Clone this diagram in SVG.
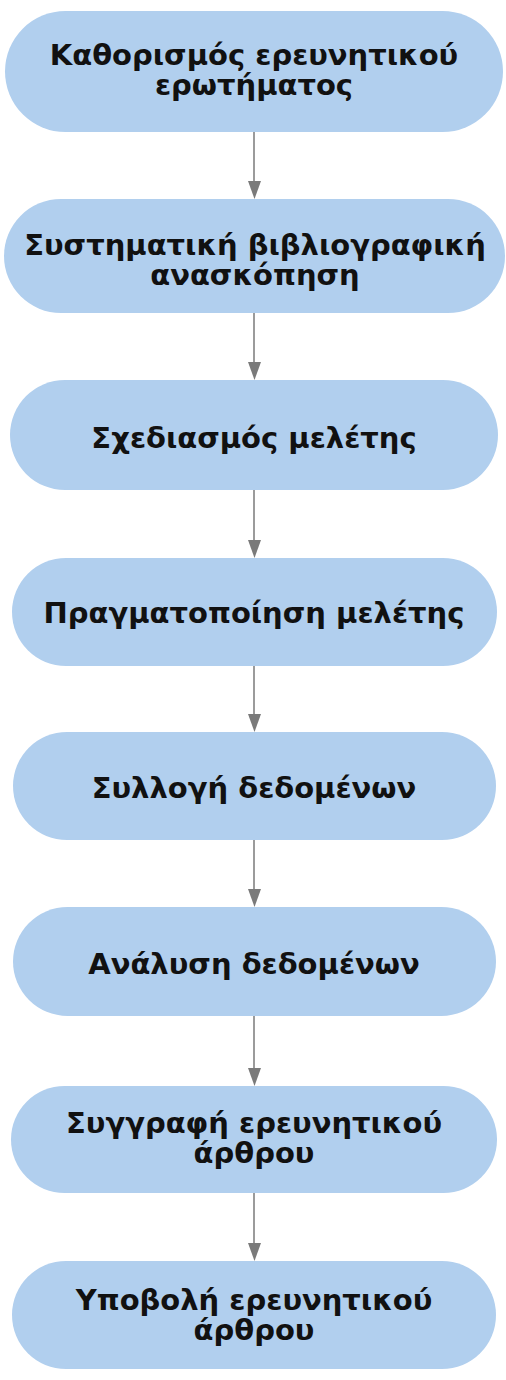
<svg xmlns="http://www.w3.org/2000/svg" width="506" height="1380" viewBox="0 0 506 1380">
<style>
.n{fill:#b1cfee}
.t{font-family:"DejaVu Sans",Verdana,sans-serif;font-weight:bold;font-size:29px;fill:#111;text-anchor:middle}
.c{stroke:#7a7a7a;stroke-width:1.5;fill:none}
.h{fill:#7a7a7a}
</style>
<rect width="506" height="1380" fill="#fff"/>
<g id="connectors">
<line class="c" x1="254" y1="132" x2="254" y2="184"/><polygon class="h" points="248,181 261,181 254.5,199"/>
<line class="c" x1="254" y1="313" x2="254" y2="365"/><polygon class="h" points="248,362 261,362 254.5,380"/>
<line class="c" x1="254" y1="490" x2="254" y2="543"/><polygon class="h" points="248,540 261,540 254.5,558"/>
<line class="c" x1="254" y1="666" x2="254" y2="717"/><polygon class="h" points="248,714 261,714 254.5,732"/>
<line class="c" x1="254" y1="840" x2="254" y2="892"/><polygon class="h" points="248,889 261,889 254.5,907"/>
<line class="c" x1="254" y1="1016" x2="254" y2="1071"/><polygon class="h" points="248,1068 261,1068 254.5,1086"/>
<line class="c" x1="254" y1="1193" x2="254" y2="1246"/><polygon class="h" points="248,1243 261,1243 254.5,1261"/>
</g>
<g id="n1"><rect class="n" x="5" y="11" width="498" height="121" rx="60.5"/><text class="t"><tspan x="254" y="65">Καθορισμός ερευνητικού</tspan><tspan x="254" y="95">ερωτήματος</tspan></text></g>
<g id="n2"><rect class="n" x="4" y="199" width="501" height="114" rx="57"/><text class="t"><tspan x="255" y="255">Συστηματική βιβλιογραφική</tspan><tspan x="255" y="285">ανασκόπηση</tspan></text></g>
<g id="n3"><rect class="n" x="10" y="380" width="488" height="110" rx="55"/><text class="t" x="254" y="448">Σχεδιασμός μελέτης</text></g>
<g id="n4"><rect class="n" x="12" y="558" width="485" height="108" rx="54"/><text class="t" x="254" y="623">Πραγματοποίηση μελέτης</text></g>
<g id="n5"><rect class="n" x="13" y="732" width="483" height="108" rx="54"/><text class="t" x="254" y="798">Συλλογή δεδομένων</text></g>
<g id="n6"><rect class="n" x="13" y="907" width="483" height="109" rx="54.5"/><text class="t" x="254" y="974">Ανάλυση δεδομένων</text></g>
<g id="n7"><rect class="n" x="11" y="1086" width="486" height="107" rx="53.5"/><text class="t"><tspan x="254" y="1133">Συγγραφή ερευνητικού</tspan><tspan x="254" y="1163">άρθρου</tspan></text></g>
<g id="n8"><rect class="n" x="12" y="1261" width="484" height="108" rx="54"/><text class="t"><tspan x="254" y="1310">Υποβολή ερευνητικού</tspan><tspan x="254" y="1340">άρθρου</tspan></text></g>
</svg>
